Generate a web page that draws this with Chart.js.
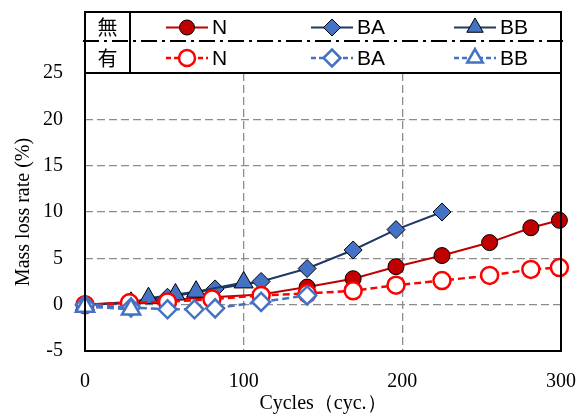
<!DOCTYPE html>
<html>
<head>
<meta charset="utf-8">
<script src="https://cdn.jsdelivr.net/npm/chart.js@4/dist/chart.umd.min.js"></script>
<style>
  html, body { margin: 0; padding: 0; background: #fff; }
  #wrap { width: 586px; height: 417px; position: relative; }
</style>
</head>
<body>
<div id="wrap"><canvas id="c" width="586" height="417"></canvas></div>
<script>
// Cycles and mass loss rate (%) for each specimen type
const cyclesN  = [0, 28, 52, 80, 111, 140, 169, 196, 225, 255, 281, 299];
const lossN_without = [0, 0.3, 0.5, 0.8, 1.1, 1.9, 2.8, 4.1, 5.3, 6.7, 8.3, 9.1];
const lossN_with    = [0, 0.2, 0.3, 0.6, 1.0, 1.2, 1.5, 2.1, 2.6, 3.15, 3.8, 4.0];

const cyclesBA_without = [0, 29, 52, 82, 111, 140, 169, 196, 225];
const lossBA_without   = [0, 0.2, 0.8, 1.7, 2.5, 3.9, 5.9, 8.1, 10.0];
const cyclesBA_with = [0, 29, 52, 69, 82, 111, 140];
const lossBA_with   = [0, -0.3, -0.5, -0.5, -0.4, 0.3, 1.0];

const cyclesBB_without = [0, 29, 40, 57, 70, 100];
const lossBB_without   = [0, 0.2, 0.7, 1.1, 1.4, 2.4];
const cyclesBB_with = [0, 29];
const lossBB_with   = [-0.2, -0.5];

const rowLabels = ['無', '有'];
const seriesNames = ['N', 'BA', 'BB'];
const xTicks = [0, 100, 200, 300];
const yTicks = [-5, 0, 5, 10, 15, 20, 25];

const pts = (xs, ys) => xs.map((x, i) => ({ x: x, y: ys[i] }));

const RED_DARK = '#C00000', RED = '#FF0000', NAVY = '#1F3864', BLUE = '#4472C4';
const SERIF = '"Liberation Serif", "Times New Roman", serif';
const SANS = '"Liberation Sans", Arial, sans-serif';
const CJK = '"Noto Sans CJK JP", "Noto Sans CJK SC", sans-serif';

const styles = [
  // 無 row
  { line: RED_DARK, dash: [], width: 2, point: 'circle', r: 8, fill: RED_DARK, stroke: '#000', pw: 1 },
  { line: NAVY, dash: [], width: 2, point: 'rectRot', r: 9, fill: BLUE, stroke: '#000', pw: 1 },
  { line: NAVY, dash: [], width: 2, point: 'triangle', r: 11, fill: BLUE, stroke: '#000', pw: 1 },
  // 有 row
  { line: RED, dash: [7, 4], width: 2.5, point: 'circle', r: 8.5, fill: '#fff', stroke: RED, pw: 2.5 },
  { line: BLUE, dash: [7, 4], width: 2.5, point: 'rectRot', r: 9, fill: '#fff', stroke: BLUE, pw: 2.5 },
  { line: BLUE, dash: [7, 4], width: 2.5, point: 'triangle', r: 10.5, fill: '#fff', stroke: BLUE, pw: 2.5 }
];

const seriesData = [
  pts(cyclesN, lossN_without),
  pts(cyclesBA_without, lossBA_without),
  pts(cyclesBB_without, lossBB_without),
  pts(cyclesN, lossN_with),
  pts(cyclesBA_with, lossBA_with),
  pts(cyclesBB_with, lossBB_with)
];
const drawOrder = [6, 5, 4, 3, 2, 1];

const datasets = seriesData.map((d, i) => {
  const s = styles[i];
  return {
    label: rowLabels[i < 3 ? 0 : 1] + ' ' + seriesNames[i % 3],
    data: d,
    order: drawOrder[i],
    borderColor: s.line,
    borderWidth: s.width,
    borderDash: s.dash,
    pointStyle: s.point,
    pointRadius: s.r,
    pointBackgroundColor: s.fill,
    pointBorderColor: s.stroke,
    pointBorderWidth: s.pw,
    tension: 0,
    fill: false,
    clip: false
  };
});

// Plot frame and two-row legend table above the plot
const framePlugin = {
  id: 'frameAndTable',
  afterDraw(chart) {
    const ctx = chart.ctx;
    const a = chart.chartArea;
    ctx.save();
    ctx.strokeStyle = '#000';
    ctx.lineWidth = 2;
    ctx.setLineDash([]);
    ctx.strokeRect(a.left, a.top, a.right - a.left, a.bottom - a.top);

    const boxTop = 12, boxBottom = a.top, left = a.left, right = a.right;
    const midY = 41;
    const divX = left + 45;
    ctx.lineWidth = 2;
    ctx.strokeRect(left, boxTop, right - left, boxBottom - boxTop);
    ctx.beginPath();
    ctx.moveTo(divX, boxTop);
    ctx.lineTo(divX, boxBottom);
    ctx.stroke();
    // dash-dot separator between the rows
    ctx.setLineDash([16, 5, 3, 5]);
    ctx.beginPath();
    ctx.moveTo(left - 2, midY);
    ctx.lineTo(right + 2, midY);
    ctx.stroke();
    ctx.setLineDash([]);

    const rowY = [(boxTop + midY) / 2 + 1, (midY + boxBottom) / 2 + 1];
    ctx.fillStyle = '#000';
    ctx.textBaseline = 'middle';
    ctx.textAlign = 'center';
    ctx.font = '20px ' + CJK;
    rowLabels.forEach((t, r) => ctx.fillText(t, (left + divX) / 2, rowY[r]));

    const itemX = [187, 332, 475];
    ctx.font = '21px ' + SANS;
    for (let r = 0; r < 2; r++) {
      for (let k = 0; k < 3; k++) {
        const s = styles[r * 3 + k];
        const cx = itemX[k], cy = rowY[r];
        ctx.strokeStyle = s.line;
        ctx.lineWidth = s.width;
        ctx.setLineDash(s.dash.length ? [5, 3] : []);
        ctx.beginPath();
        ctx.moveTo(cx - 21, cy);
        ctx.lineTo(cx + 21, cy);
        ctx.stroke();
        ctx.setLineDash([]);
        ctx.fillStyle = s.fill;
        ctx.strokeStyle = s.stroke;
        ctx.lineWidth = s.pw;
        Chart.helpers.drawPoint(ctx, {
          pointStyle: s.point,
          radius: s.point === 'triangle' ? s.r - 1.5 : s.r - 0.5,
          rotation: 0,
          borderWidth: s.pw
        }, cx, cy);
        ctx.fillStyle = '#000';
        ctx.textAlign = 'left';
        ctx.fillText(seriesNames[k], cx + 25, cy + 1);
      }
    }
    ctx.restore();
  }
};

new Chart(document.getElementById('c'), {
  type: 'line',
  data: { datasets: datasets },
  options: {
    responsive: false,
    animation: false,
    layout: { padding: { top: 73, right: 25, left: 0, bottom: 0 } },
    plugins: { legend: { display: false }, tooltip: { enabled: false } },
    scales: {
      x: {
        type: 'linear',
        min: 0, max: 300,
        afterBuildTicks(scale) { scale.ticks = xTicks.map(v => ({ value: v })); },
        afterFit(scale) { scale.height = 66; scale.paddingLeft = 0; scale.paddingRight = 0; },
        grid: {
          color: (c) => (c.tick && (c.tick.value === 100 || c.tick.value === 200)) ? '#8c8c8c' : 'rgba(0,0,0,0)',
          lineWidth: 1.3,
          drawTicks: false
        },
        border: { display: false, dash: [8, 4] },
        ticks: { color: '#000', font: { family: SERIF, size: 20 }, padding: 19, maxRotation: 0 },
        title: {
          display: true, text: 'Cycles（cyc.）', color: '#000',
          font: { family: SERIF, size: 20 }, padding: { top: 0, bottom: 1 }
        }
      },
      y: {
        min: -5, max: 25,
        afterBuildTicks(scale) { scale.ticks = yTicks.map(v => ({ value: v })); },
        afterFit(scale) { scale.width = 85; scale.paddingTop = 0; scale.paddingBottom = 0; },
        grid: {
          color: (c) => (c.tick && c.tick.value > -5 && c.tick.value < 25) ? '#8c8c8c' : 'rgba(0,0,0,0)',
          lineWidth: 1.3,
          drawTicks: false
        },
        border: { display: false, dash: [8, 4] },
        ticks: { color: '#000', font: { family: SERIF, size: 20 }, padding: 22 },
        title: {
          display: true, text: 'Mass loss rate (%)', color: '#000',
          font: { family: SERIF, size: 20 }, padding: { top: 12, bottom: 0 }
        }
      }
    }
  },
  plugins: [framePlugin]
});
</script>
</body>
</html>
